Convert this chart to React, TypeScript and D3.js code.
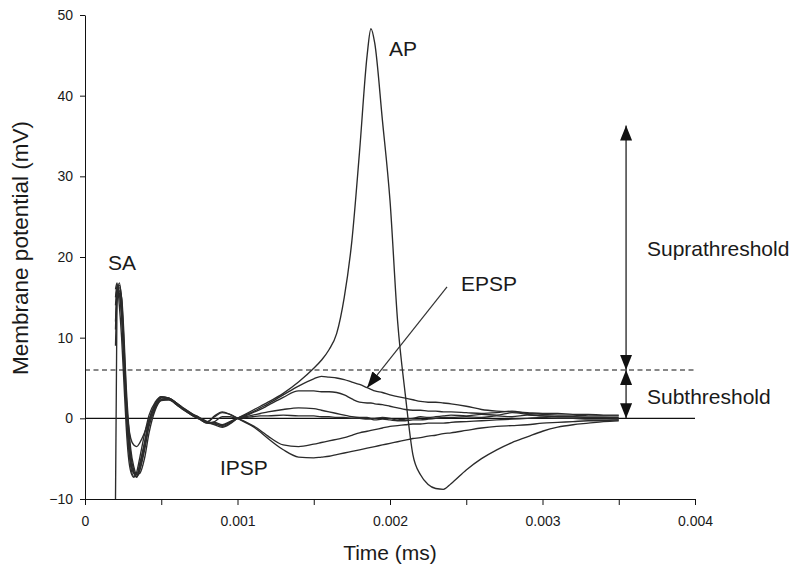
import React, { useEffect, useRef } from "react";
import * as d3 from "d3";

// Time (s as labelled on the axis) shared by all traces
const time = [
  0.0002, 0.00021, 0.000225, 0.00024, 0.000255, 0.00027, 0.000285, 0.0003, 0.00032, 0.00034,
  0.00036, 0.00039, 0.00042, 0.00046, 0.0005, 0.00055, 0.0006, 0.00065, 0.0007, 0.00075,
  0.0008, 0.00085, 0.0009, 0.00095, 0.001,
  0.00105, 0.0011, 0.00115, 0.0012, 0.0013, 0.0014, 0.0015, 0.00155, 0.0016, 0.00165,
  0.0017, 0.00175, 0.0018, 0.00185, 0.001875, 0.0019, 0.00195, 0.002, 0.00205, 0.0021,
  0.00215, 0.0022, 0.00225, 0.0023, 0.00235, 0.0024, 0.0025, 0.0026, 0.0027, 0.0028,
  0.0029, 0.003, 0.0031, 0.0032, 0.0033, 0.0034, 0.0035,
];

// Membrane potential (mV) of each trace
const traceAP = [
  -10, 15, 16.8, 14.5, 8.5, 2, -2.5, -5.2, -6.8, -7.3, -6.2, -3.6, -0.6, 1.5, 2.5, 2.4, 1.8, 1.1, 0.5, 0, -0.5, -0.6, -1.0, -0.6, 0,
  0.5, 1.0, 1.5, 2.0, 3.1, 4.5, 6.2, 7.2, 8.5, 10.5, 15, 22, 33, 45, 48.3, 46.5, 37, 27, 12, 3, -4.5, -7, -8.2, -8.7, -8.8, -8.1,
  -6.4, -5.0, -3.9, -3.0, -2.3, -1.6, -1.1, -0.8, -0.6, -0.4, -0.3,
];
const traceEPSP1 = [
  14, 16, 16.2, 13.5, 7.5, 1, -3.5, -6, -7.2, -7.2, -5.8, -3.2, -0.3, 1.7, 2.6, 2.5, 1.9, 1.2, 0.6, 0.1, -0.4, -0.8, -1.1, -0.7, 0,
  0.4, 0.8, 1.3, 1.8, 2.9, 4.0, 4.9, 5.2, 5.1, 5.0, 4.8, 4.5, 4.2, 3.8, 3.6, 3.4, 3.2, 2.9, 2.7, 2.5, 2.3, 2.1, 2.0, 2.0, 1.9, 1.8,
  1.5, 1.1, 0.9, 0.8, 0.7, 0.6, 0.6, 0.5, 0.5, 0.4, 0.4,
];
const traceEPSP2 = [
  9, 14.5, 15.8, 15.0, 10.5, 4, -0.5, -3.8, -6.0, -7, -6.8, -5.0, -1.8, 1.0, 2.2, 2.3, 1.7, 1.0, 0.4, -0.1, -0.6, -0.7, -0.9, -0.5, 0,
  0.3, 0.7, 1.1, 1.6, 2.6, 3.4, 3.4, 3.3, 3.3, 3.2, 2.9, 2.4, 2.0, 1.9, 1.9, 1.8, 1.7, 1.5, 1.3, 1.1, 1.0, 1.0, 0.9, 0.9, 0.8, 0.8,
  0.7, 0.6, 0.7, 0.9, 0.6, 0.5, 0.4, 0.4, 0.3, 0.3, 0.3,
];
const traceEPSP3 = [
  15, 16.5, 15.5, 12.5, 7, 1.2, -3, -5.5, -6.8, -6.9, -5.5, -3.0, -0.2, 1.8, 2.7, 2.5, 1.9, 1.1, 0.5, 0.0, -0.5, -0.5, -0.8, -0.4, 0,
  0.2, 0.4, 0.6, 0.8, 1.1, 1.3, 1.2, 1.0, 0.8, 0.6, 0.4, 0.2, 0.1, 0.1, 0.0, 0.0, 0.1, 0.0, -0.2, -0.1, 0.0, 0.2, 0.1, 0.2, 0.3, 0.4,
  0.3, 0.5, 0.4, 0.7, 0.5, 0.3, 0.2, 0.2, 0.1, 0.1, 0.1,
];
const traceEPSP4 = [
  12, 15, 15.2, 13, 8, 2.5, -0.8, -2.5, -3.3, -3.5, -3.0, -1.8, -0.2, 1.4, 2.3, 2.3, 1.7, 1.0, 0.4, -0.1, -0.6, -0.4, 0.2, 0.2, 0,
  0.1, 0.2, 0.3, 0.3, 0.4, 0.3, 0.3, 0.2, 0.2, 0.1, 0.1, 0.0, 0.0, -0.1, -0.1, -0.2, -0.1, -0.2, -0.3, -0.3, -0.2, -0.2, -0.1, 0.0, 0.1, 0.1,
  0.2, 0.1, 0.3, 0.2, 0.4, 0.3, 0.2, 0.2, 0.1, 0.1, 0.0,
];
const traceIPSP1 = [
  16, 16.8, 14, 10, 4.5, -1, -4.8, -6.6, -7.3, -6.6, -4.8, -2.0, 0.4, 2.0, 2.7, 2.5, 1.9, 1.2, 0.6, 0.1, -0.4, 0.2, 0.7, 0.5, 0,
  -0.4, -0.9, -1.5, -2.2, -3.3, -3.5, -3.2, -3.0, -2.8, -2.6, -2.4, -2.1, -1.8, -1.6, -1.5, -1.4, -1.2, -1.0, -0.9, -0.8, -0.7, -0.7, -0.6, -0.6, -0.6, -0.5,
  -0.4, -0.3, -0.2, -0.1, 0.0, 0.1, 0.0, 0.0, -0.1, -0.1, -0.1,
];
const traceIPSP2 = [
  11, 15.8, 16.5, 14.8, 9.5, 3, -1.5, -4.5, -6.5, -7.2, -6.4, -4.0, -1.0, 1.2, 2.3, 2.4, 1.8, 1.1, 0.5, 0.0, -0.5, 0.3, 0.8, 0.5, 0,
  -0.5, -1.0, -1.7, -2.5, -3.9, -4.8, -4.9, -4.8, -4.7, -4.5, -4.3, -4.1, -3.9, -3.7, -3.6, -3.5, -3.3, -3.1, -2.9, -2.7, -2.5, -2.4, -2.2, -2.1, -1.9, -1.8,
  -1.5, -1.2, -1.0, -0.9, -0.8, -0.6, -0.5, -0.4, -0.3, -0.3, -0.2,
];

const xTicks = [0, 0.0005, 0.001, 0.0015, 0.002, 0.0025, 0.003, 0.0035, 0.004];
const xTickLabels = ["0", "", "0.001", "", "0.002", "", "0.003", "", "0.004"];
const yTicks = [-10, 0, 10, 20, 30, 40, 50];
const thresholdMV = 6;
const suprathresholdTopMV = 36.3;

const FONT = "'Liberation Sans', Arial, Helvetica, sans-serif";
const W = 792;
const H = 570;

export default function App() {
  const xAxisRef = useRef<SVGGElement>(null);
  const yAxisRef = useRef<SVGGElement>(null);

  const x = d3.scaleLinear().domain([0, 0.004]).range([85, 695]);
  const y = d3.scaleLinear().domain([-10, 50]).range([499, 15]);

  const traces = [traceIPSP2, traceIPSP1, traceEPSP4, traceEPSP3, traceEPSP2, traceEPSP1, traceAP];
  const line = d3
    .line<number>()
    .x((_, i) => x(time[i]))
    .y((d) => y(d))
    .curve(d3.curveMonotoneX);

  useEffect(() => {
    const gx = d3.select(xAxisRef.current!);
    gx.call(
      d3
        .axisBottom(x)
        .tickValues(xTicks)
        .tickSize(6)
        .tickSizeOuter(0)
        .tickPadding(11)
        .tickFormat((_, i) => xTickLabels[i])
    );
    gx.attr("font-family", FONT).attr("font-size", 14);
    gx.selectAll("text").attr("fill", "#1a1a1a");
    gx.selectAll("line,path").attr("stroke", "#111");

    const gy = d3.select(yAxisRef.current!);
    gy.call(d3.axisLeft(y).tickValues(yTicks).tickSize(5).tickSizeOuter(0).tickPadding(7).tickFormat(d3.format("d")));
    gy.attr("font-family", FONT).attr("font-size", 14);
    gy.selectAll("text").attr("fill", "#1a1a1a");
    gy.selectAll("line,path").attr("stroke", "#111");
  }, []);

  const arrowX = x(0.003548);
  const epspFrom = [x(0.002374), y(16.3)];
  const epspTo = [x(0.00185), y(3.8)];

  return (
    <svg
      width={W}
      height={H}
      style={{ position: "absolute", left: 0, top: 0, background: "#fff" }}
      fontFamily={FONT}
    >
      <defs>
        <marker id="ahBig" viewBox="0 0 15 12" refX="15" refY="6" markerWidth="15" markerHeight="12" markerUnits="userSpaceOnUse" orient="auto-start-reverse">
          <path d="M0,0 L15,6 L0,12 z" fill="#111" />
        </marker>
        <marker id="ahEpsp" viewBox="0 0 16 12" refX="16" refY="6" markerWidth="16" markerHeight="12" markerUnits="userSpaceOnUse" orient="auto">
          <path d="M0,0 L16,6 L0,12 z" fill="#111" />
        </marker>
      </defs>

      {/* zero line and threshold */}
      <line x1={x(0)} x2={x(0.004)} y1={y(0)} y2={y(0)} stroke="#111" strokeWidth={1.2} />
      <line x1={x(0)} x2={x(0.004)} y1={y(thresholdMV)} y2={y(thresholdMV)} stroke="#111" strokeWidth={1.1} strokeDasharray="5,3.5" />

      {/* traces */}
      {traces.map((tr, k) => (
        <path key={k} d={line(tr) || ""} fill="none" stroke="#2b2b2b" strokeWidth={1.35} strokeLinejoin="round" />
      ))}

      <g ref={xAxisRef} transform={`translate(0,${y(-10)})`} />
      <g ref={yAxisRef} transform={`translate(${x(0)},0)`} />

      {/* double arrows */}
      <line x1={arrowX} x2={arrowX} y1={y(thresholdMV)} y2={y(suprathresholdTopMV)} stroke="#222" strokeWidth={1.3} markerStart="url(#ahBig)" markerEnd="url(#ahBig)" />
      <line x1={arrowX} x2={arrowX} y1={y(0)} y2={y(thresholdMV)} stroke="#222" strokeWidth={1.3} markerStart="url(#ahBig)" markerEnd="url(#ahBig)" />

      {/* EPSP arrow */}
      <line x1={epspFrom[0]} y1={epspFrom[1]} x2={epspTo[0]} y2={epspTo[1]} stroke="#333" strokeWidth={1.2} markerEnd="url(#ahEpsp)" />

      {/* labels */}
      <g fontSize={21} fill="#1a1a1a">
        <text x={x(0.000151)} y={y(18.4)}>SA</text>
        <text x={x(0.001993)} y={y(44.9)}>AP</text>
        <text x={x(0.002466)} y={y(15.8)}>EPSP</text>
        <text x={x(0.000885)} y={y(-7.0)}>IPSP</text>
        <text x={x(0.003685)} y={y(20.1)}>Suprathreshold</text>
        <text x={x(0.003685)} y={y(1.8)}>Subthreshold</text>
      </g>

      <text x={390} y={560} fontSize={21} textAnchor="middle" fill="#1a1a1a">Time (ms)</text>
      <text transform="translate(28,248) rotate(-90)" fontSize={22.5} textAnchor="middle" fill="#1a1a1a">
        Membrane potential (mV)
      </text>
    </svg>
  );
}
